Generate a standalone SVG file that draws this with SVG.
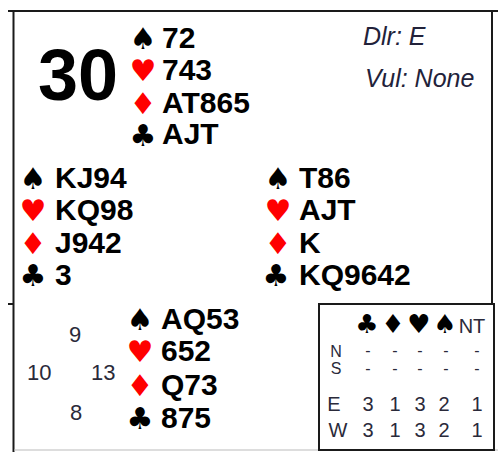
<svg xmlns="http://www.w3.org/2000/svg" width="498" height="452" viewBox="0 0 498 452">
<style>
.frame{fill:none;stroke:#1a1a1a;stroke-width:2}
.cards{font-family:"Liberation Sans",Arial,sans-serif;font-weight:bold;font-size:30px;fill:#000}
.suit{font-family:"DejaVu Sans",sans-serif;font-size:30px;text-anchor:middle}
.blk{fill:#000}
.red{fill:#ff0000}
.info{font-family:"Liberation Sans",Arial,sans-serif;font-style:italic;font-size:25px;fill:#22223a}
.hcp{font-family:"Liberation Sans",Arial,sans-serif;font-size:22px;fill:#2a2a3a}
.tbl{font-family:"Liberation Sans",Arial,sans-serif;font-size:20px;fill:#2a2a3a;text-anchor:middle}
.sm{font-size:16px}
.tsuit{font-family:"DejaVu Sans",sans-serif;font-size:26px;fill:#000;text-anchor:middle}
</style>
<rect width="498" height="452" fill="#fff"/>
<g id="frame">
<line class="frame" x1="8" y1="11" x2="498" y2="11"/>
<line class="frame" x1="13.5" y1="10" x2="13.5" y2="452"/>
<line class="frame" x1="492" y1="10" x2="492" y2="304"/>
<line class="frame" x1="8" y1="304" x2="14" y2="304"/>
<line x1="14" y1="450" x2="498" y2="450" stroke="#bbb" stroke-width="1"/>
</g>
<g id="board-number"><text x="38" y="100" font-family="Liberation Sans,Arial,sans-serif" font-weight="bold" font-size="72" fill="#000">30</text></g>
<g id="info">
<text class="info" x="363" y="45">Dlr: E</text>
<text class="info" x="365" y="87">Vul: None</text>
</g>
<g id="north">
<text class="suit blk" x="143" y="49">♠</text>
<text class="suit red" x="143" y="81">♥</text>
<text class="suit red" x="143" y="114">♦</text>
<text class="suit blk" x="143" y="146">♣</text>
<text class="cards" x="162" y="48">72</text>
<text class="cards" x="162" y="80">743</text>
<text class="cards" x="162" y="113">AT865</text>
<text class="cards" x="162" y="144">AJT</text>
</g>
<g id="west">
<text class="suit blk" x="33" y="189">♠</text>
<text class="suit red" x="33" y="221">♥</text>
<text class="suit red" x="33" y="254">♦</text>
<text class="suit blk" x="33" y="286">♣</text>
<text class="cards" x="55" y="188">KJ94</text>
<text class="cards" x="55" y="220">KQ98</text>
<text class="cards" x="55" y="253">J942</text>
<text class="cards" x="55" y="285">3</text>
</g>
<g id="east">
<text class="suit blk" x="278" y="189">♠</text>
<text class="suit red" x="278" y="221">♥</text>
<text class="suit red" x="278" y="254">♦</text>
<text class="suit blk" x="276" y="286">♣</text>
<text class="cards" x="299" y="188">T86</text>
<text class="cards" x="299" y="220">AJT</text>
<text class="cards" x="299" y="253">K</text>
<text class="cards" x="299" y="285">KQ9642</text>
</g>
<g id="south">
<text class="suit blk" x="140" y="330">♠</text>
<text class="suit red" x="140" y="362">♥</text>
<text class="suit red" x="140" y="396">♦</text>
<text class="suit blk" x="140" y="429">♣</text>
<text class="cards" x="161" y="329">AQ53</text>
<text class="cards" x="161" y="361">652</text>
<text class="cards" x="161" y="395">Q73</text>
<text class="cards" x="161" y="428">875</text>
</g>
<g id="hcp">
<text class="hcp" x="69" y="342">9</text>
<text class="hcp" x="27" y="380">10</text>
<text class="hcp" x="91" y="380">13</text>
<text class="hcp" x="70" y="420">8</text>
</g>
<g id="par-table">
<rect x="319" y="304" width="175" height="146" fill="none" stroke="#1a1a1a" stroke-width="2"/>
<text class="tsuit" x="367" y="333">♣</text>
<text class="tsuit" x="393" y="333">♦</text>
<text class="tsuit" x="419" y="333">♥</text>
<text class="tsuit" x="445" y="333">♠</text>
<text class="tbl" x="472" y="333">NT</text>
<text class="tbl sm" x="336" y="357">N</text>
<text class="tbl sm" x="336" y="374">S</text>
<text class="tbl" x="334" y="411">E</text>
<text class="tbl" x="338" y="437">W</text>
<g>
<text class="tbl sm" x="368" y="356">-</text><text class="tbl sm" x="395" y="356">-</text><text class="tbl sm" x="420" y="356">-</text><text class="tbl sm" x="446" y="356">-</text><text class="tbl sm" x="477" y="356">-</text>
<text class="tbl sm" x="368" y="374">-</text><text class="tbl sm" x="395" y="374">-</text><text class="tbl sm" x="420" y="374">-</text><text class="tbl sm" x="446" y="374">-</text><text class="tbl sm" x="477" y="374">-</text>
<text class="tbl" x="368" y="411">3</text><text class="tbl" x="395" y="411">1</text><text class="tbl" x="420" y="411">3</text><text class="tbl" x="444" y="411">2</text><text class="tbl" x="477" y="411">1</text>
<text class="tbl" x="368" y="437">3</text><text class="tbl" x="395" y="437">1</text><text class="tbl" x="420" y="437">3</text><text class="tbl" x="444" y="437">2</text><text class="tbl" x="477" y="437">1</text>
</g>
</g>
</svg>
